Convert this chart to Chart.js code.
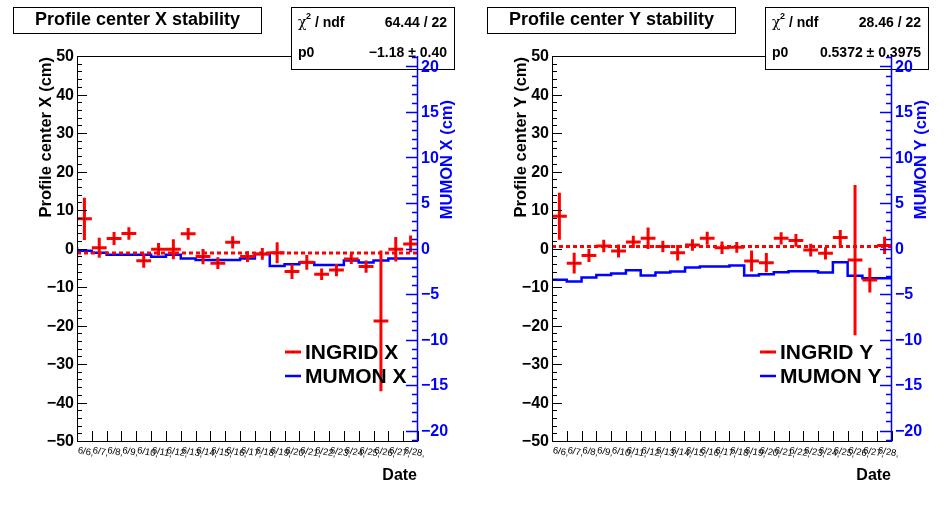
<!DOCTYPE html>
<html>
<head>
<meta charset="utf-8">
<script src="https://cdn.jsdelivr.net/npm/chart.js@4"></script>
<style>
  body{margin:0;background:#fff;}
  .wrap{position:relative;width:948px;height:526px;}
  canvas{position:absolute;top:0;}
</style>
</head>
<body>
<div class="wrap">
  <canvas id="cx" width="474" height="526" style="left:0"></canvas>
  <canvas id="cy" width="474" height="526" style="left:474px"></canvas>
</div>
<script>
// dates (one bin each)
const dates = ['6/6,','6/7,','6/8,','6/9,','6/10,','6/11,','6/12,','6/13,','6/14,','6/15,','6/16,','6/17,',
               '6/18,','6/19,','6/20,','6/21,','6/22,','6/23,','6/24,','6/25,','6/26,','6/27,','6/28,'];

// INGRID profile center X (cm) and errors
const ingridX    = [7.7, 0.2, 2.6, 3.9, -3.2, -0.2, -0.2, 3.8, -2.1, -3.8, 1.6, -2.1, -1.4, -1.1, -6.0, -3.6, -6.7, -5.6, -2.7, -4.7, -18.8, -0.2, 1.2];
const ingridXErr = [5.5, 2.6, 1.7, 1.6, 1.8, 1.6, 2.6, 1.5, 2.0, 1.5, 1.6, 1.4, 1.5, 2.7, 1.9, 1.9, 1.5, 1.6, 1.3, 1.6, 18.3, 3.2, 2.2];
// MUMON X (cm), right axis
const mumonX = [0.2, -0.24, -0.46, -0.68, -0.68, -0.68, -0.9, -0.68, -1.11, -1.26, -1.26, -1.26, -1.11, -0.6, -1.91, -1.73, -1.55, -1.8, -1.8, -1.33, -1.55, -1.33, -1.11];

// INGRID profile center Y (cm) and errors
const ingridY    = [8.4, -3.8, -1.8, 0.65, -0.65, 1.7, 2.65, 0.5, -1.1, 0.9, 2.65, 0.2, 0.3, -3.25, -3.7, 2.65, 2.1, -0.4, -1.25, 2.85, -3.0, -8.2, 0.8];
const ingridYErr = [6.1, 2.7, 1.7, 1.65, 1.7, 1.6, 2.8, 1.5, 2.0, 1.5, 1.7, 1.6, 1.4, 2.7, 2.5, 1.6, 1.65, 1.65, 1.6, 1.95, 19.5, 3.2, 2.25];
// MUMON Y (cm), right axis
const mumonY = [-3.44, -3.44, -3.63, -3.19, -2.9, -2.75, -2.38, -2.97, -2.64, -2.53, -2.1, -1.99, -1.99, -1.88, -2.97, -2.82, -2.6, -2.5, -2.5, -2.64, -1.5, -3.0, -3.26];

// pol0 fits
const fitX = -1.18, fitY = 0.5372;
const statsX = ['64.44 / 22', '\u22121.18 \u00b1 0.40'];
const statsY = ['28.46 / 22', '0.5372 \u00b1 0.3975'];

const yTicks  = [-50,-40,-30,-20,-10,0,10,20,30,40,50];
const y2Ticks = [-20,-15,-10,-5,0,5,10,15,20];

const F = '"Liberation Sans", Arial, sans-serif';

function panel(id, vals, errs, mumon, fit, stats, axis){
    const vBars = [], hBars = [], dots = [], steps = [];
    vals.forEach(function(v,i){
        vBars.push({x:i+0.5,y:v-errs[i]},{x:i+0.5,y:v+errs[i]},{x:i+0.5,y:null});
        hBars.push({x:i,y:v},{x:i+1,y:v},{x:i+1,y:null});
        dots.push({x:i+0.5,y:v});
    });
    mumon.forEach(function(m,i){ steps.push({x:i,y:m}) });
    steps.push({x:mumon.length,y:mumon[mumon.length-1]});

    const rootAxes = {
        id:'rootAxes',
        afterDraw(chart){
            const c = chart.ctx, a = chart.chartArea;
            const sx = chart.scales.x, sy = chart.scales.y, s2 = chart.scales.y2;
            c.save();
            // frame
            c.strokeStyle='#000'; c.lineWidth=1;
            c.beginPath();
            c.moveTo(a.right,a.top+0.5); c.lineTo(a.left+0.5,a.top+0.5);
            c.lineTo(a.left+0.5,a.bottom+0.5); c.lineTo(a.right,a.bottom+0.5);
            c.stroke();
            // left axis ticks
            c.beginPath();
            for(let v=-50; v<=50; v+=2){
                const py = Math.round(sy.getPixelForValue(v))+0.5;
                const len = (v%10===0)?10:5;
                c.moveTo(a.left,py); c.lineTo(a.left+len,py);
            }
            // x ticks on bin edges
            for(let k=0;k<=dates.length;k++){
                const px = Math.round(sx.getPixelForValue(k))+0.5;
                c.moveTo(px,a.bottom); c.lineTo(px,a.bottom-10);
            }
            c.stroke();
            c.fillStyle='#000';
            c.font='bold 16px '+F; c.textAlign='right'; c.textBaseline='middle';
            yTicks.forEach(function(v){ c.fillText(String(v).replace('-','\u2212'), a.left-3, sy.getPixelForValue(v)+1) });
            // date labels
            c.font='9.5px '+F; c.textAlign='left'; c.textBaseline='alphabetic';
            dates.forEach(function(d,i){
                c.save();
                c.translate(sx.getPixelForValue(i+0.5)-7, a.bottom+12);
                c.rotate(0.18);
                c.fillText(d,0,0);
                c.restore();
            });
            // axis titles
            c.font='bold 16.5px '+F; c.textAlign='right'; c.textBaseline='middle';
            c.save(); c.translate(a.left-31,57); c.rotate(-Math.PI/2); c.fillText(axis.left,0,0); c.restore();
            c.font='bold 16px '+F; c.textBaseline='middle';
            c.fillText('Date', a.right-1, 476);
            // title box
            c.fillStyle='#fff'; c.fillRect(13.5,7.5,248,26);
            c.strokeStyle='#000'; c.lineWidth=1; c.strokeRect(13.5,7.5,248,26);
            c.fillStyle='#000'; c.font='bold 18px '+F; c.textAlign='center';
            c.fillText(axis.title, 137.5, 20.5);
            // stats box
            c.fillStyle='#fff'; c.fillRect(291.5,7.5,163,62);
            c.strokeRect(291.5,7.5,163,62);
            c.fillStyle='#000'; c.textAlign='left';
            c.font='14px "DejaVu Serif", serif'; c.fillText('\u03c7', 298, 23.5);
            c.font='bold 9px '+F; c.fillText('2', 306, 17);
            c.font='bold 14px '+F; c.fillText(' / ndf', 311, 23);
            c.fillText('p0', 298, 53.5);
            c.textAlign='right';
            c.fillText(stats[0], 447, 23);
            c.fillText(stats[1], 447, 53.5);
            // right (blue) axis, drawn over the stats box
            c.strokeStyle='#0000ff'; c.fillStyle='#0000ff';
            c.beginPath();
            c.moveTo(a.right-0.5,a.top); c.lineTo(a.right-0.5,a.bottom+1);
            for(let v=-21; v<=21; v++){
                const py = Math.round(s2.getPixelForValue(v))+0.5;
                const len = (v%5===0)?12:6;
                c.moveTo(a.right,py); c.lineTo(a.right-len,py);
            }
            c.lineWidth=1.5; c.stroke();
            c.font='bold 16px '+F; c.textAlign='left'; c.textBaseline='middle';
            y2Ticks.forEach(function(v){ c.fillText(String(v).replace('-','\u2212'), a.right+3, s2.getPixelForValue(v)+1) });
            c.font='bold 16.5px '+F; c.textAlign='right';
            c.save(); c.translate(a.right+29,100); c.rotate(-Math.PI/2); c.fillText(axis.right,0,0); c.restore();
            // legend
            const ly1 = 352, ly2 = 376;
            c.lineWidth=3; c.strokeStyle='#ff0000';
            c.beginPath(); c.moveTo(a.left+208,ly1); c.lineTo(a.left+224,ly1); c.stroke();
            c.fillStyle='#000'; c.fillRect(a.left+215.5,ly1-0.5,1,1);
            c.lineWidth=2.5; c.strokeStyle='#0000ff';
            c.beginPath(); c.moveTo(a.left+208,ly2); c.lineTo(a.left+224,ly2); c.stroke();
            c.font='bold 21px '+F; c.textAlign='left';
            c.fillText(axis.leg[0], a.left+228, ly1+1);
            c.fillText(axis.leg[1], a.left+228, ly2+1);
            c.restore();
        }
    };

    return new Chart(document.getElementById(id), {
        type:'line',
        data:{
            datasets:[
                {data:dots, showLine:false, pointRadius:0.8, pointStyle:'rect', pointBackgroundColor:'#000', pointBorderWidth:0},
                {data:vBars, borderColor:'#ff0000', borderWidth:3, pointRadius:0, spanGaps:false},
                {data:hBars, borderColor:'#ff0000', borderWidth:3, pointRadius:0, spanGaps:false},
                {data:[{x:0,y:fit},{x:dates.length,y:fit}], borderColor:'#ff0000', borderWidth:3, borderDash:[4,3], pointRadius:0},
                {data:steps, yAxisID:'y2', stepped:'after', borderColor:'#0000ff', borderWidth:2.5, pointRadius:0}
            ]
        },
        options:{
            responsive:false,
            animation:false,
            devicePixelRatio:1,
            layout:{padding:{left:axis.padLeft, right:56, top:56, bottom:85}},
            plugins:{legend:{display:false}, tooltip:{enabled:false}},
            scales:{
                x:{type:'linear', min:0, max:dates.length, display:false},
                y:{min:-50, max:50, display:false},
                y2:{min:-21.15, max:21.15, display:false, position:'right'}
            }
        },
        plugins:[rootAxes]
    });
}

panel('cx', ingridX, ingridXErr, mumonX, fitX, statsX,
      {title:'Profile center X stability', left:'Profile center X (cm)', right:'MUMON X (cm)', leg:['INGRID X','MUMON X'], padLeft:77});
panel('cy', ingridY, ingridYErr, mumonY, fitY, statsY,
      {title:'Profile center Y stability', left:'Profile center Y (cm)', right:'MUMON Y (cm)', leg:['INGRID Y','MUMON Y'], padLeft:78});
</script>
</body>
</html>
